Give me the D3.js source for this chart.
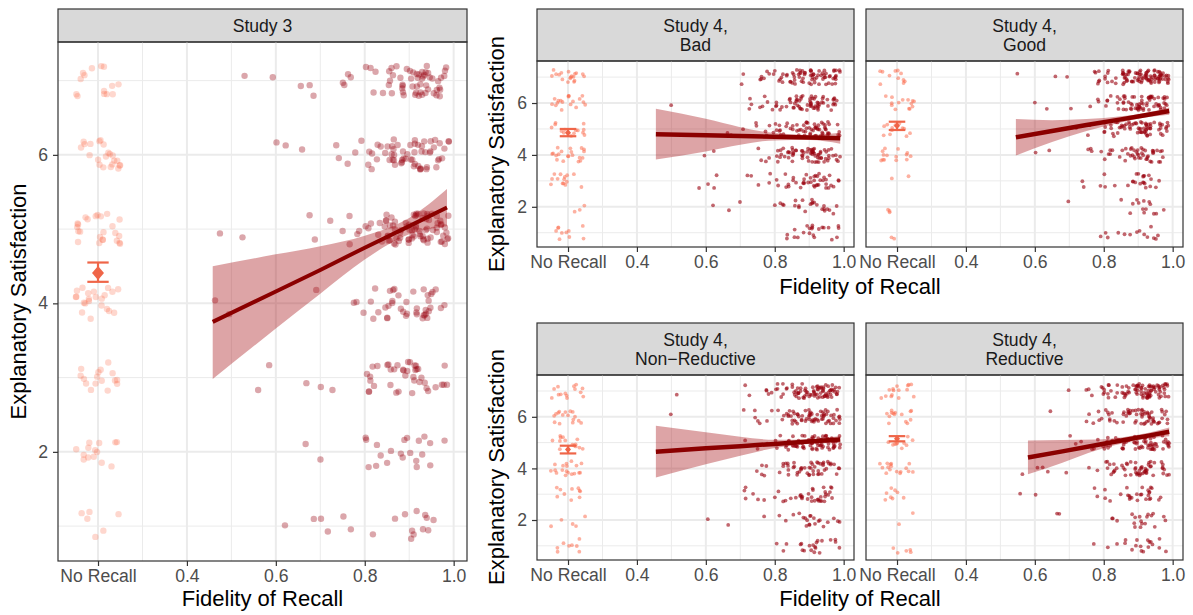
<!DOCTYPE html>
<html>
<head>
<meta charset="utf-8">
<script src="https://cdn.jsdelivr.net/npm/d3@7"></script>
<style>
body { margin: 0; background: #fff; }
svg { display: block; font-family: "Liberation Sans", Arial, Helvetica, sans-serif; }
</style>
</head>
<body>
<div id="chart"></div>
<script>
// satisfaction levels (rows of the count tables) and fidelity bins (columns)
const levels = [1, 2, 3, 4, 5, 6, 7];
const binStarts = [0.45, 0.50, 0.55, 0.60, 0.65, 0.70, 0.75, 0.80, 0.85, 0.90, 0.95];

const xTicks = [0.2, 0.4, 0.6, 0.8, 1.0];
const xTickLabels = ["No Recall", "0.4", "0.6", "0.8", "1.0"];
const xMinor = [0.3, 0.5, 0.7, 0.9];
const yTicks = [2, 4, 6];
const yMinor = [1, 3, 5, 7];
const noRecallX = 0.2;

// counts of participants per level
const study3NoRecall = [6, 14, 16, 22, 24, 22, 14];
const study3Recall = [
    [0, 0, 0, 1, 1, 2, 2, 1, 2, 8, 1],
    [0, 0, 0, 0, 1, 1, 0, 6, 6, 8, 1],
    [0, 0, 2, 0, 1, 2, 0, 8, 13, 14, 5],
    [2, 0, 0, 0, 1, 0, 3, 5, 14, 16, 4],
    [1, 1, 0, 0, 2, 1, 5, 10, 22, 30, 18],
    [0, 0, 0, 2, 1, 2, 3, 8, 18, 22, 10],
    [0, 1, 1, 0, 3, 0, 4, 5, 14, 25, 12]
];
const badNoRecall = [10, 3, 14, 20, 14, 18, 18];
const badRecall = [
    [0, 0, 0, 0, 0, 0, 0, 2, 5, 10, 5],
    [0, 0, 0, 1, 2, 0, 0, 4, 6, 10, 4],
    [0, 0, 1, 3, 0, 2, 3, 6, 10, 18, 6],
    [0, 0, 1, 1, 0, 0, 4, 12, 18, 28, 10],
    [0, 0, 0, 0, 2, 3, 4, 10, 15, 25, 10],
    [1, 0, 0, 0, 0, 3, 5, 9, 18, 25, 10],
    [0, 0, 0, 0, 0, 2, 7, 10, 20, 25, 15]
];
const goodNoRecall = [2, 3, 2, 14, 12, 14, 11];
const goodRecall = [
    [0, 0, 0, 0, 0, 0, 1, 3, 3, 5, 2],
    [0, 0, 0, 0, 1, 0, 0, 0, 4, 8, 2],
    [0, 0, 0, 0, 0, 2, 1, 3, 5, 12, 2],
    [0, 0, 0, 2, 0, 0, 4, 6, 14, 18, 6],
    [0, 0, 0, 0, 0, 2, 3, 12, 15, 28, 12],
    [0, 0, 0, 2, 0, 1, 3, 8, 18, 25, 15],
    [0, 1, 0, 0, 2, 0, 6, 8, 25, 35, 25]
];
const nonRedNoRecall = [8, 5, 10, 18, 14, 16, 14];
const nonRedRecall = [
    [0, 0, 0, 0, 0, 0, 0, 3, 4, 10, 4],
    [0, 0, 0, 1, 1, 0, 1, 2, 6, 9, 4],
    [0, 0, 0, 0, 0, 4, 2, 5, 8, 16, 5],
    [0, 0, 0, 0, 0, 1, 4, 8, 12, 20, 8],
    [0, 0, 0, 0, 0, 1, 2, 8, 18, 30, 18],
    [1, 0, 0, 0, 0, 3, 4, 8, 18, 25, 14],
    [0, 1, 0, 0, 0, 2, 4, 8, 22, 30, 18]
];
const redNoRecall = [5, 2, 8, 16, 10, 14, 15];
const redRecall = [
    [0, 0, 0, 0, 0, 0, 1, 2, 5, 8, 3],
    [0, 0, 0, 0, 2, 0, 0, 3, 4, 10, 2],
    [0, 0, 1, 1, 0, 0, 2, 4, 8, 12, 2],
    [0, 0, 1, 3, 1, 0, 2, 10, 14, 22, 8],
    [0, 0, 0, 0, 0, 3, 4, 10, 15, 25, 12],
    [0, 0, 0, 1, 0, 1, 5, 8, 15, 25, 10],
    [0, 0, 0, 0, 1, 1, 5, 10, 20, 35, 20]
];

// no-recall mean with interval [mean, low, high]
const study3Mean = [4.41, 4.29, 4.55];
const badMean = [4.85, 4.72, 5.00];
const goodMean = [5.12, 4.96, 5.28];
const nonRedMean = [4.73, 4.58, 4.88];
const redMean = [5.15, 5.05, 5.25];

// linear fit and its band, read at a few fidelity values
const study3FitX = [0.458, 0.6, 0.7, 0.8, 0.9, 0.985];
const study3FitY = [3.75, 4.16, 4.45, 4.75, 5.04, 5.29];
const study3FitLo = [2.98, 3.66, 4.13, 4.59, 4.93, 5.04];
const study3FitHi = [4.50, 4.66, 4.77, 4.91, 5.15, 5.54];
const badFitX = [0.455, 0.6, 0.7, 0.8, 0.9, 0.99];
const badFitY = [4.80, 4.76, 4.73, 4.70, 4.67, 4.64];
const badFitLo = [3.82, 4.13, 4.39, 4.56, 4.57, 4.43];
const badFitHi = [5.78, 5.39, 5.07, 4.84, 4.77, 4.85];
const goodFitX = [0.545, 0.65, 0.75, 0.85, 0.92, 0.99];
const goodFitY = [4.68, 4.92, 5.15, 5.37, 5.53, 5.69];
const goodFitLo = [3.98, 4.50, 4.92, 5.25, 5.44, 5.55];
const goodFitHi = [5.38, 5.34, 5.38, 5.49, 5.62, 5.83];
const nonRedFitX = [0.455, 0.6, 0.7, 0.8, 0.9, 0.99];
const nonRedFitY = [4.65, 4.78, 4.86, 4.95, 5.04, 5.12];
const nonRedFitLo = [3.65, 4.16, 4.49, 4.79, 4.95, 4.98];
const nonRedFitHi = [5.65, 5.40, 5.23, 5.11, 5.13, 5.26];
const redFitX = [0.58, 0.68, 0.78, 0.86, 0.93, 0.99];
const redFitY = [4.42, 4.66, 4.91, 5.10, 5.27, 5.42];
const redFitLo = [3.77, 4.22, 4.70, 4.98, 5.16, 5.25];
const redFitHi = [5.08, 5.10, 5.12, 5.22, 5.38, 5.59];

const width = 1193, height = 615;

const panels = [
    { strip: ["Study 3"], noRecall: study3NoRecall, recall: study3Recall, mean: study3Mean,
      fit: [study3FitX, study3FitY, study3FitLo, study3FitHi],
      left: 58, right: 467, stripTop: 9, top: 42, bottom: 561, yDomain: [0.53, 7.52],
      r: 3.2, op: 0.35, jy: 0.21, big: true },
    { strip: ["Study 4,", "Bad"], noRecall: badNoRecall, recall: badRecall, mean: badMean,
      fit: [badFitX, badFitY, badFitLo, badFitHi],
      left: 537, right: 854, stripTop: 9, top: 61, bottom: 247, yDomain: [0.45, 7.62],
      r: 1.9, op: 0.6, jy: 0.28 },
    { strip: ["Study 4,", "Good"], noRecall: goodNoRecall, recall: goodRecall, mean: goodMean,
      fit: [goodFitX, goodFitY, goodFitLo, goodFitHi],
      left: 866, right: 1183, stripTop: 9, top: 61, bottom: 247, yDomain: [0.45, 7.62],
      r: 1.9, op: 0.6, jy: 0.28, noY: true },
    { strip: ["Study 4,", "Non\u2212Reductive"], noRecall: nonRedNoRecall, recall: nonRedRecall, mean: nonRedMean,
      fit: [nonRedFitX, nonRedFitY, nonRedFitLo, nonRedFitHi],
      left: 537, right: 854, stripTop: 323, top: 375, bottom: 560, yDomain: [0.45, 7.62],
      r: 1.9, op: 0.6, jy: 0.28 },
    { strip: ["Study 4,", "Reductive"], noRecall: redNoRecall, recall: redRecall, mean: redMean,
      fit: [redFitX, redFitY, redFitLo, redFitHi],
      left: 866, right: 1183, stripTop: 323, top: 375, bottom: 560, yDomain: [0.45, 7.62],
      r: 1.9, op: 0.6, jy: 0.28, noY: true }
];

// repeatable jitter offset in [0,1) (display only, like geom_jitter)
function jitter(n) {
    let t = (n * 0x6D2B79F5 + 0x9E3779B9) >>> 0;
    t = Math.imul(t ^ (t >>> 15), t | 1);
    t ^= t + Math.imul(t ^ (t >>> 7), t | 61);
    return ((t ^ (t >>> 14)) >>> 0) / 4294967296;
}

function buildPoints(p, seed) {
    const pts = [];
    let n = seed * 10000;
    levels.forEach((lv, li) => {
        for (let k = 0; k < p.noRecall[li]; k++) {
            n += 2;
            pts.push({ x: noRecallX + (jitter(n) * 2 - 1) * 0.05,
                       y: lv + (jitter(n + 1) * 2 - 1) * p.jy, none: true });
        }
        p.recall[li].forEach((c, bi) => {
            const w = bi === binStarts.length - 1 ? 0.04 : 0.05;
            for (let k = 0; k < c; k++) {
                n += 2;
                pts.push({ x: binStarts[bi] + jitter(n) * w,
                           y: lv + (jitter(n + 1) * 2 - 1) * p.jy });
            }
        });
    });
    return pts;
}

const svg = d3.select("#chart").append("svg")
    .attr("width", width)
    .attr("height", height);

function drawPanel(p, idx) {
    const x = d3.scaleLinear().domain([0.11, 1.03]).range([p.left, p.right]);
    const y = d3.scaleLinear().domain(p.yDomain).range([p.bottom, p.top]);
    const g = svg.append("g");

    g.append("clipPath").attr("id", "clip" + idx)
        .append("rect")
        .attr("x", p.left).attr("y", p.top)
        .attr("width", p.right - p.left).attr("height", p.bottom - p.top);

    // strip
    g.append("rect")
        .attr("x", p.left).attr("y", p.stripTop)
        .attr("width", p.right - p.left).attr("height", p.top - p.stripTop)
        .attr("fill", "#D9D9D9").attr("stroke", "#333").attr("stroke-width", 1.2);
    const mid = (p.stripTop + p.top) / 2;
    const lh = 18.5;
    p.strip.forEach((s, i) => {
        g.append("text")
            .attr("x", (p.left + p.right) / 2)
            .attr("y", mid + (i - (p.strip.length - 1) / 2) * lh)
            .attr("dy", "0.36em")
            .attr("text-anchor", "middle")
            .attr("fill", "#1A1A1A")
            .style("font-size", "17.6px")
            .text(s);
    });

    const body = g.append("g").attr("clip-path", `url(#clip${idx})`);

    // grid
    body.selectAll(".xminor").data(xMinor).join("line")
        .attr("x1", d => x(d)).attr("x2", d => x(d))
        .attr("y1", p.top).attr("y2", p.bottom)
        .attr("stroke", "#EBEBEB").attr("stroke-width", 1);
    body.selectAll(".yminor").data(yMinor).join("line")
        .attr("y1", d => y(d)).attr("y2", d => y(d))
        .attr("x1", p.left).attr("x2", p.right)
        .attr("stroke", "#EBEBEB").attr("stroke-width", 1);
    body.selectAll(".xmajor").data(xTicks).join("line")
        .attr("x1", d => x(d)).attr("x2", d => x(d))
        .attr("y1", p.top).attr("y2", p.bottom)
        .attr("stroke", "#EBEBEB").attr("stroke-width", 2);
    body.selectAll(".ymajor").data(yTicks).join("line")
        .attr("y1", d => y(d)).attr("y2", d => y(d))
        .attr("x1", p.left).attr("x2", p.right)
        .attr("stroke", "#EBEBEB").attr("stroke-width", 2);

    // points
    body.selectAll(".pt").data(buildPoints(p, idx + 1)).join("circle")
        .attr("cx", d => x(d.x))
        .attr("cy", d => y(d.y))
        .attr("r", p.r)
        .attr("fill", d => d.none ? "#FB6A4A" : "#99000D")
        .attr("fill-opacity", d => d.none ? p.op - 0.08 : p.op);

    // fit band and line
    const [fx, fy, flo, fhi] = p.fit;
    const idxs = d3.range(fx.length);
    body.append("path")
        .attr("d", d3.area()
            .x(i => x(fx[i])).y0(i => y(flo[i])).y1(i => y(fhi[i]))
            .curve(d3.curveMonotoneX)(idxs))
        .attr("fill", "#A50F15").attr("fill-opacity", 0.38);
    body.append("path")
        .attr("d", d3.line().x(i => x(fx[i])).y(i => y(fy[i]))(idxs))
        .attr("fill", "none").attr("stroke", "#8B0000")
        .attr("stroke-width", p.big ? 4 : 4.5);

    // no-recall mean and interval
    const [m, lo, hi] = p.mean;
    const cw = 0.024;
    const eb = body.append("g").attr("stroke", "#EF6548").attr("stroke-width", 2.2);
    eb.append("line").attr("x1", x(noRecallX)).attr("x2", x(noRecallX)).attr("y1", y(lo)).attr("y2", y(hi));
    eb.append("line").attr("x1", x(noRecallX - cw)).attr("x2", x(noRecallX + cw)).attr("y1", y(lo)).attr("y2", y(lo));
    eb.append("line").attr("x1", x(noRecallX - cw)).attr("x2", x(noRecallX + cw)).attr("y1", y(hi)).attr("y2", y(hi));
    const hw = p.big ? 6 : 3, hh = p.big ? 7 : 3.5;
    const cx = x(noRecallX), cy = y(m);
    body.append("path")
        .attr("d", `M${cx},${cy - hh}L${cx + hw},${cy}L${cx},${cy + hh}L${cx - hw},${cy}Z`)
        .attr("fill", "#EF6548");

    // border
    g.append("rect")
        .attr("x", p.left).attr("y", p.top)
        .attr("width", p.right - p.left).attr("height", p.bottom - p.top)
        .attr("fill", "none").attr("stroke", "#333").attr("stroke-width", 1.2);

    // axes
    const axes = [];
    axes.push(g.append("g")
        .attr("transform", `translate(0,${p.bottom})`)
        .call(d3.axisBottom(x).tickValues(xTicks).tickFormat((d, i) => xTickLabels[i])
            .tickSize(5).tickPadding(4)));
    if (!p.noY) {
        axes.push(g.append("g")
            .attr("transform", `translate(${p.left},0)`)
            .call(d3.axisLeft(y).tickValues(yTicks).tickFormat(d3.format("d"))
                .tickSize(5).tickPadding(5)));
    }
    axes.forEach(a => {
        a.select(".domain").remove();
        a.selectAll(".tick line").attr("stroke", "#333").attr("stroke-width", 1.2);
        a.selectAll(".tick text")
            .attr("fill", "#4D4D4D")
            .style("font-size", "17.6px")
            .style("font-family", "'Liberation Sans', Arial, sans-serif");
    });
}

panels.forEach(drawPanel);

// axis titles
const xTitles = [[262.5, 606], [860, 294], [860, 606]];
const yTitles = [[26, 301.5], [504, 154], [504, 467]];
svg.selectAll(".xtitle").data(xTitles).join("text")
    .attr("x", d => d[0]).attr("y", d => d[1])
    .attr("text-anchor", "middle")
    .style("font-size", "22px")
    .text("Fidelity of Recall");
svg.selectAll(".ytitle").data(yTitles).join("text")
    .attr("transform", d => `translate(${d[0]},${d[1]}) rotate(-90)`)
    .attr("text-anchor", "middle")
    .style("font-size", "22px")
    .text("Explanatory Satisfaction");
</script>
</body>
</html>
